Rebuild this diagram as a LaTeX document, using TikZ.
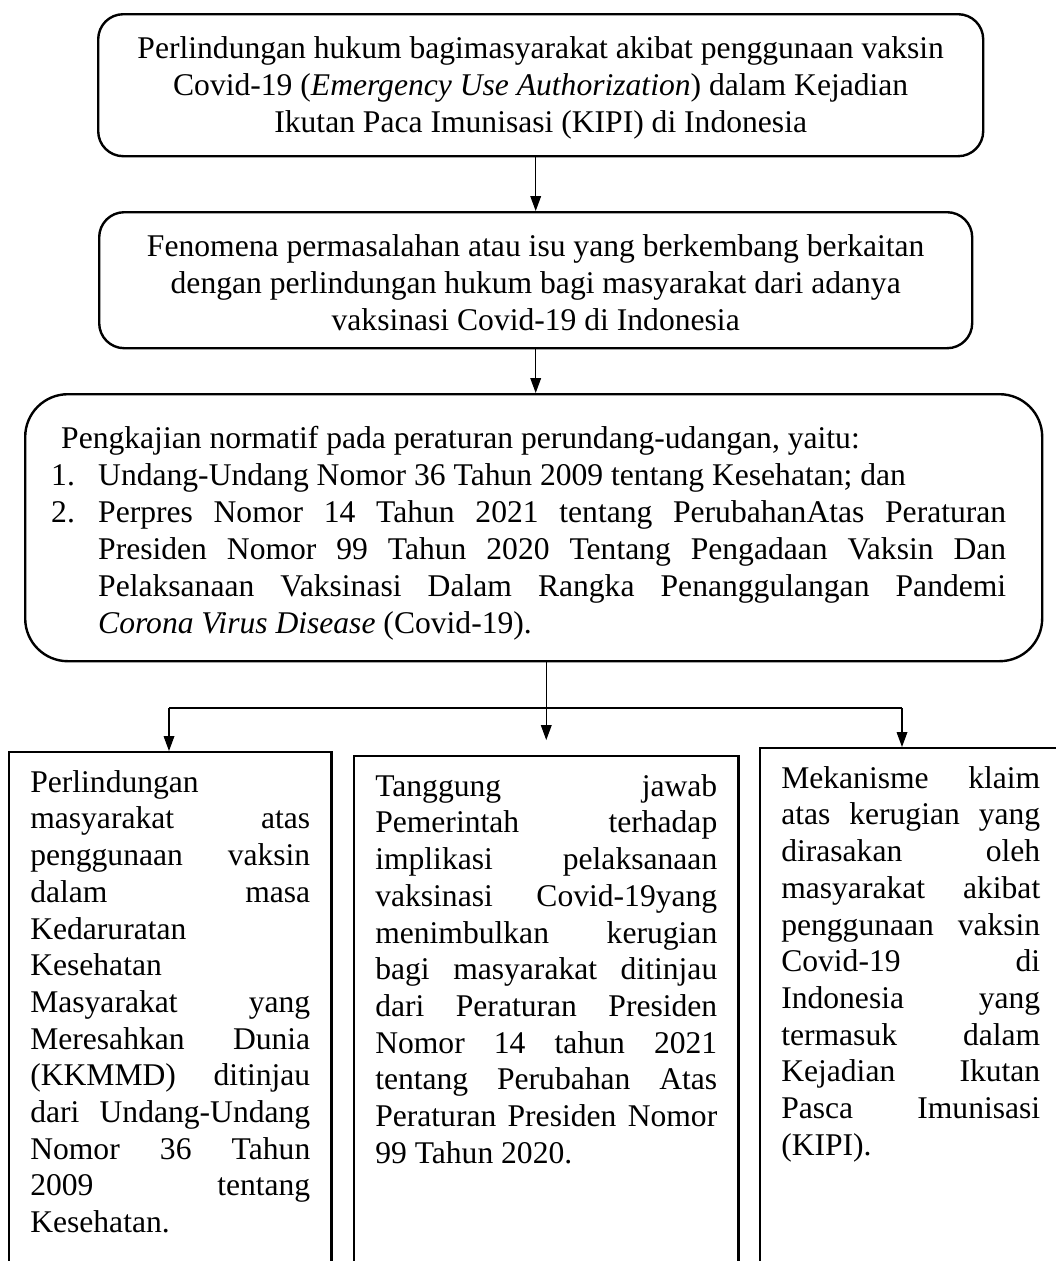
\documentclass[tikz,border=0pt]{standalone}
\usepackage{fontspec}
\setmainfont{Liberation Serif}
\usetikzlibrary{arrows.meta,calc,positioning}
\newlength\px
\setlength\px{0.375pt}
\tolerance=10000
\hbadness=10000

\begin{document}
\begin{tikzpicture}[x=0.375pt,y=-0.375pt,
  kotak/.style={draw,line width=0.9pt,rounded corners=9.4pt,anchor=north west,inner xsep=0pt,inner ysep=6.75pt},
  kotakbesar/.style={draw,line width=0.9pt,rounded corners=16pt,anchor=north west,inner xsep=9.75pt,inner ysep=10.5pt},
  kolom/.style={draw,line width=0.9pt,anchor=north west,inner xsep=7.9pt,inner ysep=5.4pt},
  garis/.style={line width=0.45pt},
  panah/.style={garis,-{Triangle[length=5.6pt,width=4pt]}}]
  \useasboundingbox (0,0) rectangle (1056,1261);
  \node[kotak] (judul) at (97,13) {\parbox[t][106\px][t]{885\px}{\centering\fontsize{11.85}{13.9}\selectfont\strut
    Perlindungan hukum bagimasyarakat akibat penggunaan vaksin\\
    Covid-19 (\textit{Emergency Use Authorization}) dalam Kejadian\\
    Ikutan Paca Imunisasi (KIPI) di Indonesia}};
  \node[kotak] (isu) at (98,211) {\parbox[t][100\px][t]{873\px}{\centering\fontsize{11.85}{13.9}\selectfont\strut
    Fenomena permasalahan atau isu yang berkembang berkaitan\\
    dengan perlindungan hukum bagi masyarakat dari adanya\\
    vaksinasi Covid-19 di Indonesia}};
  \node[kotakbesar] (kajian) at (24,393) {\parbox[t][211\px][t]{965\px}{\fontsize{11.85}{13.9}\selectfont\rightskip=10\px
    \strut\hspace*{10\px}Pengkajian normatif pada peraturan perundang-udangan, yaitu:\par
    \hangindent=47\px\hangafter=1\makebox[47\px][l]{1.}Undang-Undang Nomor 36 Tahun 2009 tentang Kesehatan; dan\par
    \hangindent=47\px\hangafter=1\makebox[47\px][l]{2.}Perpres Nomor 14 Tahun 2021 tentang PerubahanAtas Peraturan\linebreak
    Presiden Nomor 99 Tahun 2020 Tentang Pengadaan Vaksin Dan\linebreak
    Pelaksanaan Vaksinasi Dalam Rangka Penanggulangan Pandemi\linebreak
    \textit{Corona Virus Disease} (Covid-19).}};
  \node[kolom] (kiri) at (8,751) {\parbox[t][560\px][t]{280\px}{\fontsize{11.85}{13.76}\selectfont\strut
    Perlindungan\linebreak masyarakat atas\linebreak penggunaan vaksin\linebreak dalam masa\linebreak
    Kedaruratan\linebreak Kesehatan\linebreak Masyarakat yang\linebreak Meresahkan Dunia\linebreak
    (KKMMD) ditinjau\linebreak dari Undang-Undang\linebreak Nomor 36 Tahun\linebreak 2009 tentang\linebreak
    Kesehatan.}};
  \node[kolom] (tengah) at (353,755) {\parbox[t][560\px][t]{342\px}{\fontsize{11.85}{13.76}\selectfont\strut
    Tanggung jawab\linebreak Pemerintah terhadap\linebreak implikasi pelaksanaan\linebreak
    vaksinasi Covid-19yang\linebreak menimbulkan kerugian\linebreak bagi masyarakat ditinjau\linebreak
    dari Peraturan Presiden\linebreak Nomor 14 tahun 2021\linebreak tentang Perubahan Atas\linebreak
    Peraturan Presiden Nomor\linebreak 99 Tahun 2020.}};
  \node[kolom] (kanan) at (759,747) {\parbox[t][560\px][t]{259\px}{\fontsize{11.85}{13.76}\selectfont\strut
    Mekanisme klaim\linebreak atas kerugian yang\linebreak dirasakan oleh\linebreak masyarakat akibat\linebreak
    penggunaan vaksin\linebreak Covid-19 di\linebreak Indonesia yang\linebreak termasuk dalam\linebreak
    Kejadian Ikutan\linebreak Pasca Imunisasi\linebreak (KIPI).}};
  \coordinate (cabangkiri) at (169,708);
  \coordinate (cabangkanan) at (902,708);
  \draw[panah] (judul.south -| isu.north) -- (isu.north);
  \draw[panah] (isu.south) -- (isu.south |- kajian.north);
  \draw[panah,shorten >=5.6pt] (kajian.south -| tengah.north) -- (tengah.north);
  \draw[garis] (cabangkiri) -- (cabangkanan);
  \draw[panah] (cabangkiri) -- (cabangkiri |- kiri.north);
  \draw[panah] (cabangkanan) -- (cabangkanan |- kanan.north);
\end{tikzpicture}
\end{document}
